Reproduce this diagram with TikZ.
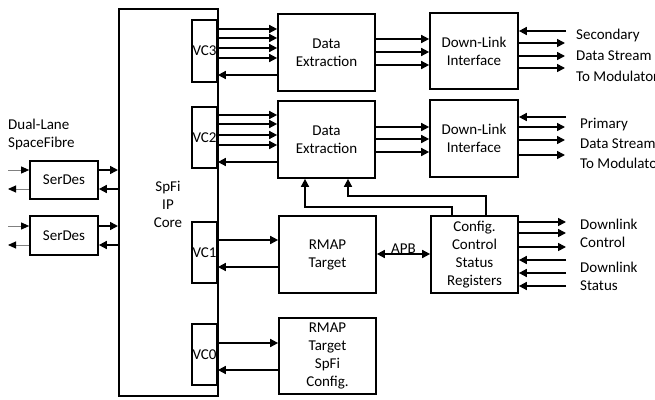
\documentclass[tikz,border=0pt]{standalone}
\usepackage{fontspec}
\setmainfont{Carlito}
\usetikzlibrary{arrows.meta}
\begin{document}
\begin{tikzpicture}[x=1pt,y=-1pt,
  every node/.style={font=\fontsize{15}{18}\selectfont},
  blk/.style={draw,line width=1.7pt,minimum width=#1,inner sep=0pt,align=center},
  arr/.style={line width=1.6pt,-{Triangle[length=8pt,width=8pt]}},
  darr/.style={line width=1.6pt,{Triangle[length=8pt,width=8pt]}-{Triangle[length=8pt,width=8pt]}},
  thin arr/.style={draw=gray,line width=0.9pt,-{Triangle[black,length=8pt,width=7pt]}},
  lbl/.style={anchor=west,align=left,inner sep=0pt}]
\useasboundingbox (0,0) rectangle (655,399);
% core and VCs
\node[blk=99pt,minimum height=387pt,anchor=north west] (core) at (118,8) {};
\node[align=center,inner sep=0pt] (coretxt) at (168,204) {SpFi\\IP\\Core};
\node[blk=25pt,minimum height=62pt,fill=white] (vc3) at (204.5,51) {VC3};
\node[blk=25pt,minimum height=61pt,fill=white] (vc2) at (204.5,137.5) {VC2};
\node[blk=25pt,minimum height=61pt,fill=white] (vc1) at (204.5,252.5) {VC1};
\node[blk=25pt,minimum height=61pt,fill=white] (vc0) at (204.5,354.5) {VC0};
% blocks
\node[blk=97pt,minimum height=77pt] (de1) at (326.5,52.5) {Data\\Extraction};
\node[blk=97pt,minimum height=77pt] (de2) at (326.5,139.5) {Data\\Extraction};
\node[blk=88pt,minimum height=76pt] (dli1) at (474,51) {Down-Link\\Interface};
\node[blk=88pt,minimum height=77pt] (dli2) at (474,138.5) {Down-Link\\Interface};
\node[blk=97pt,minimum height=77pt] (rmap1) at (327.5,254.5) {RMAP\\Target};
\node[blk=97pt,minimum height=76pt] (rmap0) at (327.5,356) {RMAP\\Target\\SpFi\\Config.};
\node[blk=87pt,minimum height=77pt] (csr) at (474.5,254.5) {Config.\\Control\\Status\\Registers};
\node[blk=68pt,minimum height=38pt] (sd1) at (64,180) {SerDes};
\node[blk=68pt,minimum height=39pt] (sd2) at (64,235.5) {SerDes};
% labels
\node[lbl] (dual) at (8,134.5) {Dual-Lane\\SpaceFibre};
\node[lbl,font=\fontsize{15}{21}\selectfont] (sec) at (576,55.5) {Secondary\\Data Stream\\To Modulator};
\node[lbl,font=\fontsize{15}{20}\selectfont] (pri) at (580,143.5) {Primary\\Data Stream\\To Modulator};
\node[lbl] (dlc) at (580,233) {Downlink\\Control};
\node[lbl] (dls) at (580,276.5) {Downlink\\Status};
% SerDes external
\coordinate (e1i) at (8,170); \coordinate (e1o) at (8,189);
\coordinate (e2i) at (8,226); \coordinate (e2o) at (8,245);
\draw[thin arr] (e1i) -- (sd1.west |- e1i);
\draw[thin arr] (sd1.west |- e1o) -- (e1o);
\draw[thin arr] (e2i) -- (sd2.west |- e2i);
\draw[thin arr] (sd2.west |- e2o) -- (e2o);
\draw[arr] (sd1.east |- 0,170) -- (core.west |- 0,170);
\draw[arr] (core.west |- 0,189) -- (sd1.east |- 0,189);
\draw[arr] (sd2.east |- 0,226) -- (core.west |- 0,226);
\draw[arr] (core.west |- 0,245) -- (sd2.east |- 0,245);
% VC3 / VC2 to data extraction
\foreach \y in {29,38,48,58} \draw[arr] (vc3.east |- 0,\y) -- (de1.west |- 0,\y);
\draw[arr] (de1.west |- 0,75) -- (vc3.east |- 0,75);
\foreach \y in {115,124,135,145} \draw[arr] (vc2.east |- 0,\y) -- (de2.west |- 0,\y);
\draw[arr] (de2.west |- 0,162) -- (vc2.east |- 0,162);
% DE to DLI
\foreach \y in {39,52,65} \draw[arr] (de1.east |- 0,\y) -- (dli1.west |- 0,\y);
\foreach \y in {127,139,152} \draw[arr] (de2.east |- 0,\y) -- (dli2.west |- 0,\y);
% DLI outputs
\coordinate (s1) at (566,31);
\draw[arr] (s1) -- (dli1.east |- s1);
\foreach \y in {43,56,68} \draw[arr] (dli1.east |- 0,\y) -- (565,\y);
\coordinate (p1) at (566,117);
\draw[arr] (p1) -- (dli2.east |- p1);
\foreach \y in {127,140,155} \draw[arr] (dli2.east |- 0,\y) -- (565,\y);
% RMAP
\draw[arr] (vc1.east |- 0,240) -- (rmap1.west |- 0,240);
\draw[arr] (rmap1.west |- 0,267) -- (vc1.east |- 0,267);
\draw[arr] (vc0.east |- 0,343) -- (rmap0.west |- 0,343);
\draw[arr] (rmap0.west |- 0,370) -- (vc0.east |- 0,370);
\draw[darr] (rmap1.east |- 0,254) -- node[above=-1pt,inner sep=1pt] (apb) {APB} (csr.west |- 0,254);
% CSR outputs
\foreach \y in {222,233,247} \draw[arr] (csr.east |- 0,\y) -- (566,\y);
\foreach \y in {260,273,286} \draw[arr] (566,\y) -- (csr.east |- 0,\y);
% CSR to DE2
\draw[arr] (csr.north -| 452,0) -- (452,207) -| (de2.south -| 305,0);
\draw[arr] (csr.north -| 486,0) -- (486,196) -| (de2.south -| 348,0);
\end{tikzpicture}
\end{document}
